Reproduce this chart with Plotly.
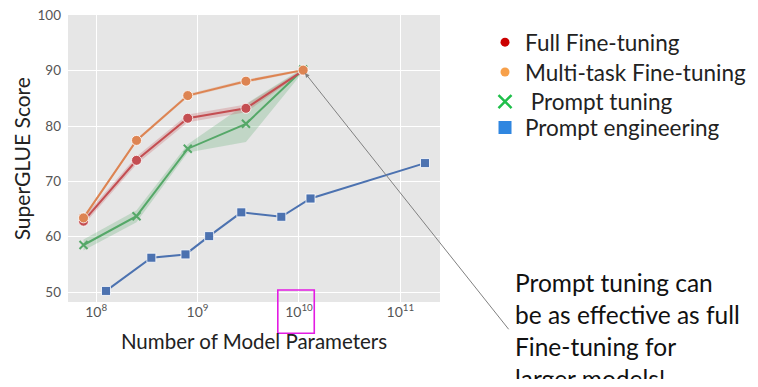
import math
import plotly.graph_objects as go

# ---- data ----
t5_params = [7.5e7, 2.5e8, 8.0e8, 3.0e9, 1.1e10]
full_ft = [62.8, 73.8, 81.4, 83.2, 90.0]
full_ft_lo = [62.1, 73.1, 80.7, 82.5, 89.7]
full_ft_hi = [63.5, 74.5, 82.1, 83.9, 90.3]
multi_ft = [63.4, 77.4, 85.5, 88.1, 90.1]
multi_ft_lo = [63.1, 77.1, 85.2, 87.8, 89.9]
multi_ft_hi = [63.7, 77.7, 85.8, 88.4, 90.3]
prompt_tuning = [58.5, 63.7, 75.9, 80.4, 90.2]
prompt_tuning_lo = [57.5, 62.6, 75.2, 77.1, 89.8]
prompt_tuning_hi = [59.5, 64.8, 76.7, 84.0, 90.5]

gpt3_params = [1.25e8, 3.5e8, 7.6e8, 1.3e9, 2.7e9, 6.7e9, 1.3e10, 1.75e11]
prompt_eng = [50.2, 56.2, 56.8, 60.1, 64.4, 63.6, 66.9, 73.3]

x_tickvals = [1e8, 1e9, 1e10, 1e11]
x_ticktext = ["10<sup>8</sup>", "10<sup>9</sup>", "10<sup>10</sup>", "10<sup>11</sup>"]
y_tickvals = [50, 60, 70, 80, 90, 100]

legend_names = ["Full Fine-tuning", "Multi-task Fine-tuning", " Prompt tuning", "Prompt engineering"]

# ---- styles ----
RED = "#c44e52"
ORANGE = "#dd8452"
GREEN = "#55a868"
BLUE = "#4c72b0"

fig = go.Figure()


def band(x, lo, hi, color):
    fig.add_trace(go.Scatter(x=x, y=hi, mode="lines", line=dict(width=0),
                             hoverinfo="skip", showlegend=False))
    fig.add_trace(go.Scatter(x=x, y=lo, mode="lines", line=dict(width=0),
                             fill="tonexty", fillcolor=color,
                             hoverinfo="skip", showlegend=False))


band(t5_params, prompt_tuning_lo, prompt_tuning_hi, "rgba(85,168,104,0.25)")
band(t5_params, full_ft_lo, full_ft_hi, "rgba(196,78,82,0.25)")
band(t5_params, multi_ft_lo, multi_ft_hi, "rgba(221,132,82,0.25)")

fig.add_trace(go.Scatter(x=gpt3_params, y=prompt_eng, mode="lines+markers",
                         line=dict(color=BLUE, width=2),
                         marker=dict(symbol="square", size=9, color=BLUE,
                                     line=dict(color="white", width=0.8)),
                         showlegend=False))
fig.add_trace(go.Scatter(x=t5_params, y=prompt_tuning, mode="lines+markers",
                         line=dict(color=GREEN, width=2),
                         marker=dict(symbol="x-thin", size=8,
                                     line=dict(color=GREEN, width=2)),
                         showlegend=False))
fig.add_trace(go.Scatter(x=t5_params, y=full_ft, mode="lines+markers",
                         line=dict(color=RED, width=2),
                         marker=dict(symbol="circle", size=10, color=RED,
                                     line=dict(color="white", width=0.8)),
                         showlegend=False))
fig.add_trace(go.Scatter(x=t5_params, y=multi_ft, mode="lines+markers",
                         line=dict(color=ORANGE, width=2),
                         marker=dict(symbol="circle", size=10, color=ORANGE,
                                     line=dict(color="white", width=0.8)),
                         showlegend=False))

# legend entries (marker only), each in its own legend box for exact spacing
legend_markers = [
    dict(symbol="circle", size=9, color="#cc0000"),
    dict(symbol="circle", size=9, color="#f7a04a"),
    dict(symbol="x-thin", size=13, line=dict(color="#1fbf4a", width=2.5)),
    dict(symbol="square", size=13, color="#2f86e0"),
]
legend_ids = ["legend", "legend2", "legend3", "legend4"]
for name, mk, lid in zip(legend_names, legend_markers, legend_ids):
    fig.add_trace(go.Scatter(x=[None], y=[None], mode="markers", name=name,
                             marker=mk, showlegend=True, legend=lid))

# arrow from text to the converging point
fig.add_annotation(x=math.log10(1.1e10), y=90, xref="x", yref="y",
                   ax=12.08, ay=43.0, axref="x", ayref="y",
                   text="", showarrow=True, arrowhead=2, arrowsize=0.9,
                   arrowwidth=1, arrowcolor="#808080", standoff=3)

fig.add_annotation(xref="paper", yref="paper", x=1.195, y=0.127,
                   xanchor="left", yanchor="top", align="left", showarrow=False,
                   text="Prompt tuning can<br>be as effective as full<br>Fine-tuning for<br>larger models!",
                   font=dict(family="Lato", size=24.5, color="#111111"))

fig.add_annotation(xref="paper", yref="paper", x=-0.124, y=0.5,
                   xanchor="center", yanchor="middle", textangle=-90, showarrow=False,
                   text="SuperGLUE Score",
                   font=dict(family="Lato", size=21, color="#222222"))

fig.add_annotation(xref="paper", yref="paper", x=0.757, y=-0.263,
                   xanchor="right", yanchor="top", showarrow=False,
                   text='Lester et al. 2021, "The Power of Scale for Parameter-Efficient Prompt Tuning"',
                   font=dict(family="Lato", size=12, color="#333333"))

# magenta highlight box around 10^10
fig.add_shape(type="rect", xref="paper", yref="paper",
              x0=0.564, x1=0.662, y0=0.042, y1=-0.109,
              line=dict(color="#e31ce3", width=1.6))

legend_style = dict(x=1.121, xanchor="left", yanchor="middle",
                    font=dict(family="Lato", size=22.5, color="#222222"),
                    bgcolor="rgba(0,0,0,0)", borderwidth=0)
legend_ys = [0.904, 0.800, 0.697, 0.607]

fig.update_layout(
    width=750, height=371,
    margin=dict(l=60, r=311, t=7, b=77),
    paper_bgcolor="white",
    plot_bgcolor="#e6e6e6",
    font=dict(family="Lato", color="#555555"),
    showlegend=True,
    legend=dict(y=legend_ys[0], **legend_style),
    legend2=dict(y=legend_ys[1], **legend_style),
    legend3=dict(y=legend_ys[2], **legend_style),
    legend4=dict(y=legend_ys[3], **legend_style),
    xaxis=dict(type="log", range=[7.722, 11.391], automargin=False,
               tickvals=x_tickvals, ticktext=x_ticktext,
               showgrid=True, gridcolor="white", gridwidth=1.3,
               zeroline=False, ticks="", showline=False,
               tickfont=dict(family="Lato", size=14, color="#555555"),
               title=dict(text="Number of Model Parameters", standoff=15,
                          font=dict(family="Lato", size=20.5, color="#222222"))),
    yaxis=dict(range=[48.2, 100.06], tickvals=y_tickvals, automargin=False,
               showgrid=True, gridcolor="white", gridwidth=1.3,
               zeroline=False, ticks="", showline=False, ticklabelstandoff=6,
               ticklabeloverflow="allow",
               tickfont=dict(family="Lato", size=13.5, color="#555555")),
)

fig.write_html("out.html")
